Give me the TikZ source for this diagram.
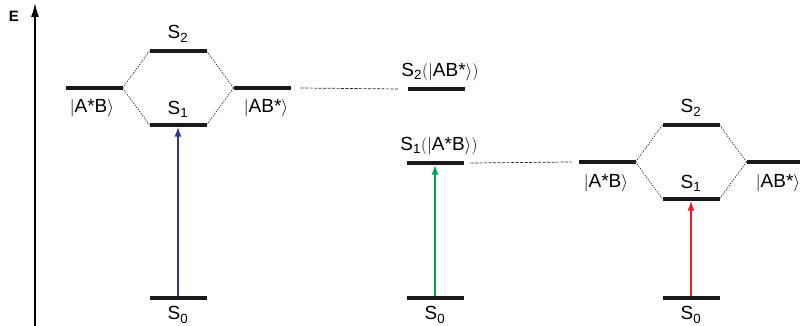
\documentclass[tikz,border=0pt]{standalone}
\usepackage{fontspec}
\setmainfont{Liberation Sans}
\usetikzlibrary{arrows.meta}
\definecolor{exblue}{HTML}{2B3990}
\definecolor{exgreen}{HTML}{00A651}
\definecolor{exred}{HTML}{ED1C24}
\newcommand{\ketlbl}[1]{$\big|$#1$\big\rangle$}
\begin{document}
\begin{tikzpicture}[x=1pt,y=-1pt,
  every node/.style={font=\fontsize{19}{22}\selectfont},
  level/.style={fill=black!90,minimum width=57pt,minimum height=3.2pt,inner sep=0pt,outer sep=0pt},
  mix/.style={dash pattern=on 1.3pt off 1.3pt,line width=0.7pt,black!85},
  link/.style={dash pattern=on 3pt off 1.5pt,line width=0.7pt,black!85},
  excite/.style={line width=1.6pt,-{Latex[length=10pt,width=7pt]}}]
\useasboundingbox (0,0) rectangle (800,326);

% energy axis
\node[font=\bfseries\fontsize{15}{17}\selectfont] (E) at (14,16) {E};
\coordinate (axb) at (35,326);
\coordinate (axt) at (35,3);
\draw[line width=1.6pt,-{Latex[length=14pt,width=8pt]}] (axb) -- (axt);

% left: coupled dimer levels
\node[level] (La) at (94,88) {};
\node[level] (L2) at (178,51) {};
\node[level] (L1) at (178,125) {};
\node[level] (Lb) at (262,88) {};
\node[level] (L0) at (178,298) {};
\draw[mix] (La.east) -- (L2.west);
\draw[mix] (La.east) -- (L1.west);
\draw[mix] (Lb.west) -- (L2.east);
\draw[mix] (Lb.west) -- (L1.east);
\node (tL2) at (178,34) {S\textsubscript{2}};
\node (tL1) at (178,109) {S\textsubscript{1}};
\node (tLa) at (92,108) {\ketlbl{A*B}};
\node (tLb) at (266,108) {\ketlbl{AB*}};
\node (tL0) at (178,315) {S\textsubscript{0}};
\draw[excite,exblue] (L0.north) -- (L1.south);

% middle: uncoupled levels
\node[level] (M2) at (436,89) {};
\node[level] (M1) at (435,163) {};
\node[level] (M0) at (435,298) {};
\node (tM2) at (440,72) {S\textsubscript{2}$\big($\ketlbl{AB*}$\big)$};
\node (tM1) at (439,146) {S\textsubscript{1}$\big($\ketlbl{A*B}$\big)$};
\node (tM0) at (435,315) {S\textsubscript{0}};
\draw[excite,exgreen] (M0.north) -- (M1.south);

% right: coupled dimer levels
\node[level] (Ra) at (607,162) {};
\node[level] (R2) at (691,125) {};
\node[level] (R1) at (691,199) {};
\node[level] (Rb) at (775,162) {};
\node[level] (R0) at (691,298) {};
\draw[mix] (Ra.east) -- (R2.west);
\draw[mix] (Ra.east) -- (R1.west);
\draw[mix] (Rb.west) -- (R2.east);
\draw[mix] (Rb.west) -- (R1.east);
\node (tR2) at (691,108) {S\textsubscript{2}};
\node (tR1) at (691,183) {S\textsubscript{1}};
\node (tRa) at (606,183) {\ketlbl{A*B}};
\node (tRb) at (778,183) {\ketlbl{AB*}};
\node (tR0) at (691,315) {S\textsubscript{0}};
\draw[excite,exred] (R0.north) -- (R1.south);

% correlation lines between panels
\draw[link] ([xshift=10pt]Lb.east) -- ([xshift=-9pt]M2.west);
\draw[link] ([xshift=7pt]M1.east) -- ([xshift=-7pt]Ra.west);
\end{tikzpicture}
\end{document}
